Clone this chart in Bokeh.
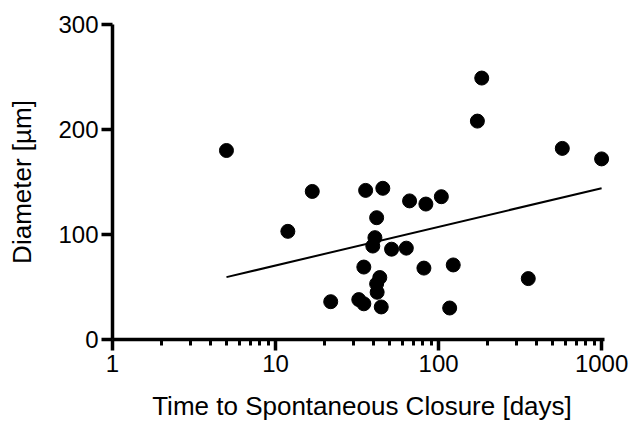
from bokeh.plotting import figure
from bokeh.models import Range1d, FixedTicker, NumeralTickFormatter
from bokeh.embed import file_html
from bokeh.resources import INLINE

# Data
days = [5, 184, 173, 574, 1000, 16.8, 35.7, 45.5, 66.4, 83.6, 104, 41.7, 11.9,
        40.7, 39.5, 51.5, 63.4, 34.8, 81.3, 123, 355, 43.6, 41.7, 42, 21.8,
        32.4, 34.8, 44.5, 117]
diameter = [180, 249, 208, 182, 172, 141, 142, 144, 132, 129, 136, 116, 103,
            97, 89, 86, 87, 69, 68, 71, 58, 59, 53, 45, 36, 38, 34, 31, 30]

fit_days = [5, 1000]
fit_diameter = [59.4, 144.1]

x_major = [1, 10, 100, 1000]
x_minor = [2, 3, 4, 5, 6, 7, 8, 9, 20, 30, 40, 50, 60, 70, 80, 90,
           200, 300, 400, 500, 600, 700, 800, 900]
y_major = [0, 100, 200, 300]

FONT = "Liberation Sans"

p = figure(width=631, height=423, x_axis_type="log",
           x_range=Range1d(1, 1150), y_range=Range1d(0, 300),
           output_backend="svg", toolbar_location=None,
           min_border_left=112, min_border_right=20,
           min_border_top=24, min_border_bottom=84)
p.outline_line_color = None
p.grid.visible = False
p.background_fill_color = "white"
p.border_fill_color = "white"

p.line(fit_days, fit_diameter, line_color="black", line_width=2)
p.scatter(days, diameter, size=14, fill_color="black", line_color="black")

for ax in (p.xaxis[0], p.yaxis[0]):
    ax.axis_line_width = 3.5
    ax.axis_line_color = "black"
    ax.major_tick_line_width = 3.5
    ax.major_tick_line_color = "black"
    ax.minor_tick_line_width = 3
    ax.minor_tick_line_color = "black"
    ax.major_tick_in = 0
    ax.major_tick_out = 11
    ax.minor_tick_in = 0
    ax.minor_tick_out = 6
    ax.major_label_text_font = FONT
    ax.major_label_text_font_size = "24px"
    ax.major_label_text_color = "black"
    ax.axis_label_text_font = FONT
    ax.axis_label_text_font_size = "26px"
    ax.axis_label_text_font_style = "normal"
    ax.axis_label_text_color = "black"
    ax.formatter = NumeralTickFormatter(format="0")

p.xaxis.ticker = FixedTicker(ticks=x_major, minor_ticks=x_minor)
p.xaxis.bounds = (1, 1040)
p.yaxis.ticker = FixedTicker(ticks=y_major)
p.yaxis.minor_tick_line_color = None
p.xaxis.axis_label = "Time to Spontaneous Closure [days]"
p.yaxis.axis_label = "Diameter [µm]"
p.xaxis.major_label_standoff = 4
p.yaxis.major_label_standoff = 3
p.xaxis.axis_label_standoff = 16
p.yaxis.axis_label_standoff = 18

open("out.html", "w").write(file_html(p, INLINE))
